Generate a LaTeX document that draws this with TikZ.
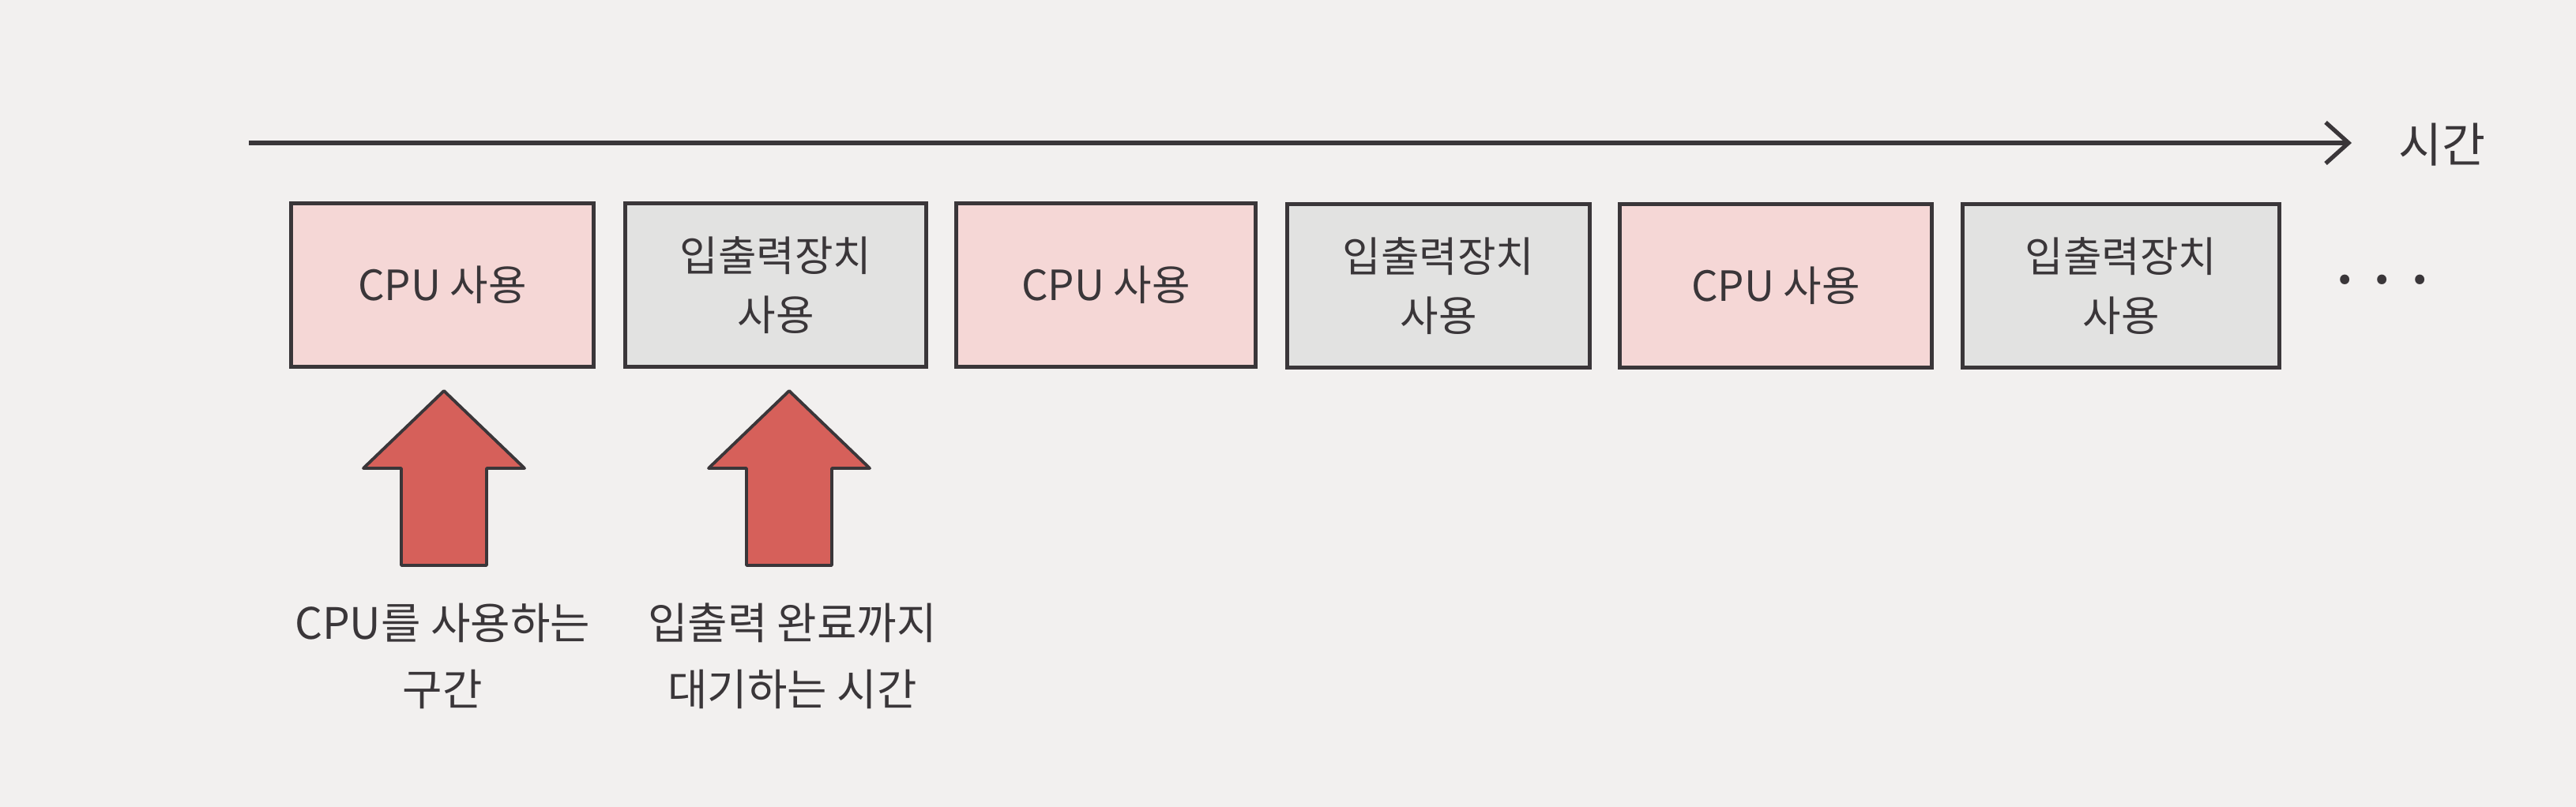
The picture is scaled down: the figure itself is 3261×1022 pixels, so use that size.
\documentclass[tikz,border=0pt]{standalone}
\usepackage{fontspec}
\setmainfont{Noto Sans CJK KR}
\usepackage{tikz}
\usetikzlibrary{arrows.meta}

\definecolor{paper}{HTML}{F2F0EF}
\definecolor{ink}{HTML}{3A3639}
\definecolor{cpufill}{HTML}{F5D7D6}
\definecolor{iofill}{HTML}{E2E2E1}
\definecolor{upfill}{HTML}{D6605A}

\begin{document}
\begin{tikzpicture}[x=0.01cm,y=0.01cm,yscale=-1,xscale=1,
  box/.style={draw=ink,line width=1.4pt,minimum height=2.07cm,inner sep=0pt,align=center,text=ink,font=\fontsize{15}{21.3}\selectfont},
  cpubox/.style={box,fill=cpufill},
  iobox/.style={box,fill=iofill},
  note/.style={align=center,text=ink,font=\fontsize{15.6}{24}\selectfont},
  uparrow/.style={draw=ink,line width=1.1pt,fill=upfill,line join=round}]
%set diagram size to the reference
\path[fill=paper] (0,0) rectangle (3261,1022);

%Time axis
\coordinate (t0) at (315,181);
\coordinate (t1) at (2977,181);
\draw [draw=ink,line width=1.5pt,-{Straight Barb[length=0.29cm,width=0.52cm]}] (t0) -- (t1);
\node (time) [anchor=west,text=ink,font=\fontsize{17}{20}\selectfont] at (3024,183) {시간};

%Boxes
\node (cpuA) [cpubox,minimum width=3.83cm] at (560,361) {CPU 사용};
\node (ioA) [iobox,minimum width=3.81cm] at (982,361) {입출력장치\\사용};
\node (cpuB) [cpubox,minimum width=3.79cm] at (1400,361) {CPU 사용};
\node (ioB) [iobox,minimum width=3.82cm] at (1821,362) {입출력장치\\사용};
\node (cpuC) [cpubox,minimum width=3.94cm] at (2248,362) {CPU 사용};
\node (ioC) [iobox,minimum width=4.00cm] at (2685,362) {입출력장치\\사용};
\node (more) [text=ink,font=\bfseries\fontsize{16}{18}\selectfont] at (3016,362) {· · ·};

%Up arrows
\draw [uparrow] (508,716) -- (508,593) -- (460,593) -- (562,495) -- (664,593) -- (616,593) -- (616,716) -- cycle;
\draw [uparrow] (945,716) -- (945,593) -- (897,593) -- (999,495) -- (1101,593) -- (1053,593) -- (1053,716) -- cycle;

%Labels
\node (lblcpu) [note] at (560,831) {CPU를 사용하는\\구간};
\node (lblwait) [note] at (1003,831) {입출력 완료까지\\대기하는 시간};

\end{tikzpicture}
\end{document}
